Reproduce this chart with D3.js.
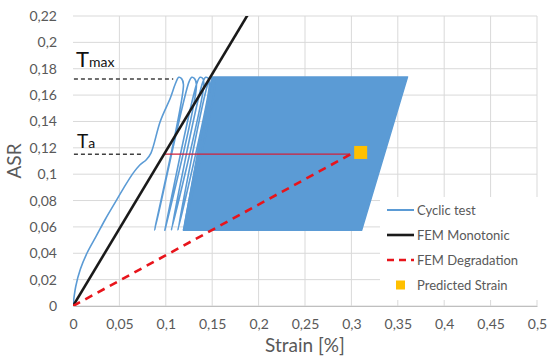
<!DOCTYPE html>
<html>
<head>
<meta charset="utf-8">
<script src="https://cdn.jsdelivr.net/npm/d3@7"></script>
<style>
  body { margin: 0; background: #fff; }
  svg { font-family: Lato, "Noto Sans", sans-serif; }
</style>
</head>
<body>
<div id="chart"></div>
<script>
// values (strain in %, ASR)
const xTicks = [0, 0.05, 0.1, 0.15, 0.2, 0.25, 0.3, 0.35, 0.4, 0.45, 0.5];
const yTicks = [0, 0.02, 0.04, 0.06, 0.08, 0.1, 0.12, 0.14, 0.16, 0.18, 0.2, 0.22];

// first loading of the cyclic test
const cyclicInitial = [
  [0, 0], [0.003, 0.015], [0.008, 0.028], [0.015, 0.040], [0.025, 0.053],
  [0.035, 0.066], [0.045, 0.078], [0.055, 0.090], [0.065, 0.101], [0.072, 0.107],
  [0.079, 0.111], [0.084, 0.116], [0.094, 0.140], [0.105, 0.158], [0.110, 0.168],
  [0.114, 0.1735]
];
// the first separate cycles, point by point
const cyclicLoops = [
  [0.117, 0.1725], [0.119, 0.168], [0.088, 0.0575],
  [0.125, 0.170], [0.128, 0.1735], [0.131, 0.1725], [0.133, 0.168], [0.099, 0.0575],
  [0.134, 0.170], [0.137, 0.1735], [0.140, 0.1725], [0.141, 0.168], [0.106, 0.0575],
  [0.140, 0.170], [0.143, 0.1735], [0.146, 0.1725], [0.147, 0.168], [0.113, 0.0575],
  [0.146, 0.170], [0.149, 0.1735], [0.152, 0.1725], [0.153, 0.168], [0.119, 0.0575],
  [0.150, 0.1738]
];
// outline of the dense band of later cycles
const cyclicBand = [[0.119, 0.0575], [0.311, 0.0575], [0.3605, 0.1738], [0.150, 0.1738]];

const femMonotonic = [[0, 0], [0.25, 0.2933]];
const femDegradation = [[0, 0], [0.302, 0.1162]];
const predicted = [0.310, 0.1165];
const taLine = [[0.099, 0.1152], [0.298, 0.1152]];
const tmaxRef = [[0.001, 0.1722], [0.108, 0.1722]];
const taRef = [[0.001, 0.1152], [0.076, 0.1152]];

const legendItems = ['Cyclic test', 'FEM Monotonic', 'FEM Degradation', 'Predicted Strain'];

const W = 547, H = 363;
const svg = d3.select('#chart').append('svg').attr('width', W).attr('height', H);

const x = d3.scaleLinear().domain([0, 0.5]).range([73, 537]);
const y = d3.scaleLinear().domain([0, 0.22]).range([306, 16]);
const fmt = d => String(d).replace('.', ',');

// gridlines
svg.append('g').selectAll('line').data(yTicks).join('line')
  .attr('x1', x(0)).attr('x2', x(0.5))
  .attr('y1', d => y(d)).attr('y2', d => y(d))
  .attr('stroke', '#d9d9d9').attr('stroke-width', 1);
svg.append('g').selectAll('line').data(xTicks.slice(1)).join('line')
  .attr('x1', d => x(d)).attr('x2', d => x(d))
  .attr('y1', y(0)).attr('y2', y(0.22))
  .attr('stroke', '#d9d9d9').attr('stroke-width', 1);

// axes
const xAxis = svg.append('g').attr('transform', `translate(0,${y(0)})`)
  .call(d3.axisBottom(x).tickValues(xTicks).tickFormat(fmt).tickSize(0).tickPadding(13));
const yAxis = svg.append('g').attr('transform', `translate(${x(0)},0)`)
  .call(d3.axisLeft(y).tickValues(yTicks).tickFormat(fmt).tickSize(0).tickPadding(16));
xAxis.select('.domain').attr('stroke', '#bfbfbf');
yAxis.select('.domain').remove();
[xAxis, yAxis].forEach(a => a.selectAll('text')
  .attr('fill', '#595959').style('font-size', '14px').style('font-family', 'Lato, sans-serif'));

svg.append('text').attr('x', 305).attr('y', 352).attr('text-anchor', 'middle')
  .attr('fill', '#595959').style('font-size', '19px').text('Strain [%]');
svg.append('text').attr('transform', 'translate(21,161) rotate(-90)').attr('text-anchor', 'middle')
  .attr('fill', '#595959').style('font-size', '19px').text('ASR');

const plot = svg.append('g');
svg.append('clipPath').attr('id', 'clip').append('rect')
  .attr('x', x(0)).attr('y', y(0.22)).attr('width', x(0.5) - x(0)).attr('height', y(0) - y(0.22));
plot.attr('clip-path', 'url(#clip)');

const line = d3.line().x(d => x(d[0])).y(d => y(d[1]));
const blue = '#5b9bd5';

// dense band
plot.append('path').datum(cyclicBand)
  .attr('d', d3.line().x(d => x(d[0])).y(d => y(d[1])).curve(d3.curveLinearClosed))
  .attr('fill', blue).attr('stroke', blue).attr('stroke-width', 1.5).attr('stroke-linejoin', 'round');

// cyclic path: first loading then the separate loops
plot.append('path').datum(cyclicInitial.concat(cyclicLoops))
  .attr('d', d3.line().x(d => x(d[0])).y(d => y(d[1])).curve(d3.curveCatmullRom.alpha(0.5)))
  .attr('fill', 'none').attr('stroke', blue).attr('stroke-width', 1.6).attr('stroke-linejoin', 'round');

// Ta red line
plot.append('path').datum(taLine).attr('d', line)
  .attr('stroke', '#d0213a').attr('stroke-width', 1.2);

// FEM lines
plot.append('path').datum(femMonotonic).attr('d', line)
  .attr('stroke', '#1a1a1a').attr('stroke-width', 2.6);
plot.append('path').datum(femDegradation).attr('d', line)
  .attr('stroke', '#e8141b').attr('stroke-width', 2.6).attr('stroke-dasharray', '8,6');

// predicted strain
plot.append('rect')
  .attr('x', x(predicted[0]) - 6.5).attr('y', y(predicted[1]) - 6.5)
  .attr('width', 13).attr('height', 13).attr('fill', '#ffc000');

// reference dashes and labels
[tmaxRef, taRef].forEach(r => svg.append('path').datum(r).attr('d', line)
  .attr('stroke', '#404040').attr('stroke-width', 1.5).attr('stroke-dasharray', '4,3'));
const tmax = svg.append('text').attr('x', 76).attr('y', 67).attr('fill', '#111');
tmax.append('tspan').style('font-size', '22px').text('T');
tmax.append('tspan').style('font-size', '14px').text('max');
const ta = svg.append('text').attr('x', 77).attr('y', 148).attr('fill', '#111');
ta.append('tspan').style('font-size', '19px').text('T');
ta.append('tspan').style('font-size', '14px').text('a');

// legend
const lg = svg.append('g');
lg.append('rect').attr('x', 380).attr('y', 197).attr('width', 160).attr('height', 103).attr('fill', '#fff');
legendItems.forEach((name, i) => {
  const yy = 210 + i * 25;
  if (i === 0) lg.append('line').attr('x1', 387).attr('x2', 414).attr('y1', yy).attr('y2', yy)
    .attr('stroke', blue).attr('stroke-width', 2);
  if (i === 1) lg.append('line').attr('x1', 387).attr('x2', 414).attr('y1', yy).attr('y2', yy)
    .attr('stroke', '#1a1a1a').attr('stroke-width', 2.6);
  if (i === 2) lg.append('line').attr('x1', 387).attr('x2', 414).attr('y1', yy).attr('y2', yy)
    .attr('stroke', '#e8141b').attr('stroke-width', 2.6).attr('stroke-dasharray', '7,5');
  if (i === 3) lg.append('rect').attr('x', 396).attr('y', yy - 4.5).attr('width', 9).attr('height', 9)
    .attr('fill', '#ffc000');
  lg.append('text').attr('x', 417).attr('y', yy).attr('dy', '0.35em')
    .attr('fill', '#595959').style('font-size', '13px').text(name);
});
</script>
</body>
</html>
